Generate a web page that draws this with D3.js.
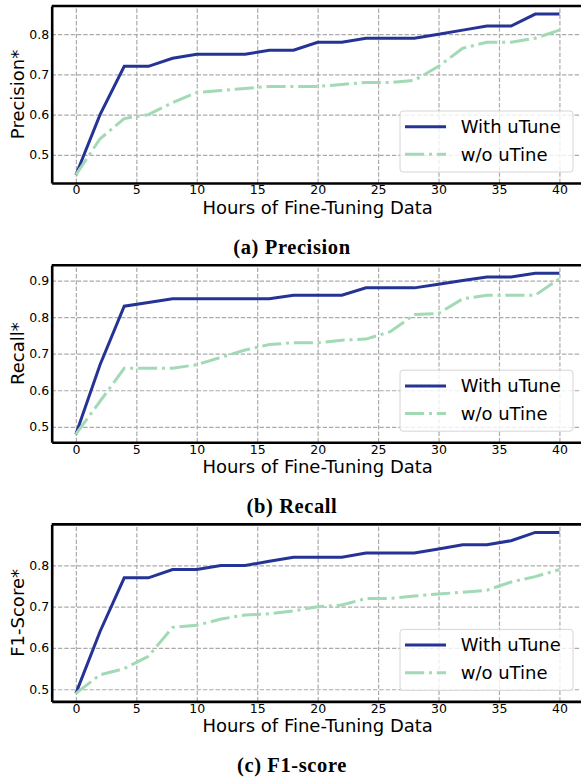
<!DOCTYPE html>
<html>
<head>
<meta charset="utf-8">
<script src="https://cdn.jsdelivr.net/npm/d3@7"></script>
<style>
  body { margin: 0; background: #fff; }
  svg { display: block; }
</style>
</head>
<body>
<div id="chart-area"></div>
<script>
// hours on x axis
var hours = [0, 2, 4, 6, 8, 10, 12, 14, 16, 18, 20, 22, 24, 26, 28, 30, 32, 34, 36, 38, 40];
var xTicks = [0, 5, 10, 15, 20, 25, 30, 35, 40];

var precisionWith    = [0.45, 0.60, 0.72, 0.72, 0.74, 0.75, 0.75, 0.75, 0.76, 0.76, 0.78, 0.78, 0.79, 0.79, 0.79, 0.80, 0.81, 0.82, 0.82, 0.85, 0.85];
var precisionWithout = [0.45, 0.54, 0.59, 0.60, 0.63, 0.655, 0.66, 0.665, 0.67, 0.67, 0.67, 0.675, 0.68, 0.68, 0.685, 0.72, 0.765, 0.78, 0.78, 0.79, 0.81];
var precisionTicks   = [0.5, 0.6, 0.7, 0.8];

var recallWith    = [0.48, 0.67, 0.83, 0.84, 0.85, 0.85, 0.85, 0.85, 0.85, 0.86, 0.86, 0.86, 0.88, 0.88, 0.88, 0.89, 0.90, 0.91, 0.91, 0.92, 0.92];
var recallWithout = [0.48, 0.57, 0.66, 0.66, 0.66, 0.67, 0.69, 0.71, 0.725, 0.73, 0.73, 0.737, 0.74, 0.76, 0.807, 0.81, 0.85, 0.86, 0.86, 0.86, 0.905];
var recallTicks   = [0.5, 0.6, 0.7, 0.8, 0.9];

var f1With    = [0.49, 0.64, 0.77, 0.77, 0.79, 0.79, 0.80, 0.80, 0.81, 0.82, 0.82, 0.82, 0.83, 0.83, 0.83, 0.84, 0.85, 0.85, 0.86, 0.88, 0.88];
var f1Without = [0.49, 0.535, 0.55, 0.58, 0.65, 0.655, 0.67, 0.68, 0.683, 0.69, 0.70, 0.704, 0.72, 0.72, 0.726, 0.731, 0.735, 0.74, 0.76, 0.773, 0.79];
var f1Ticks   = [0.5, 0.6, 0.7, 0.8];

var seriesNames = ["With uTune", "w/o uTine"];
var colors = ["#253494", "#a1dab4"];

var panels = [
    { ylabel: "Precision*", caption: "(a) Precision", a: precisionWith, b: precisionWithout, ticks: precisionTicks },
    { ylabel: "Recall*",    caption: "(b) Recall",    a: recallWith,    b: recallWithout,    ticks: recallTicks },
    { ylabel: "F1-Score*",  caption: "(c) F1-score",  a: f1With,        b: f1Without,        ticks: f1Ticks }
];

var W = 581, H = 780;
var margin = { left: 51.7, top: 6 };
var plotW = 531.9, plotH = 177;
var step = 259.2;

var svg = d3.select("#chart-area")
    .append("svg")
    .attr("width", W)
    .attr("height", H)
    .style("font-family", "'DejaVu Sans', sans-serif");

// matplotlib style 5% margins
function padded(ext) {
    var r = ext[1] - ext[0];
    return [ext[0] - r * 0.05, ext[1] + r * 0.05];
}

var x = d3.scaleLinear()
    .domain(padded(d3.extent(hours)))
    .range([0, plotW]);

panels.forEach(function(p, i) {
    var g = svg.append("g")
        .attr("transform", "translate(" + margin.left + "," + (margin.top + i * step) + ")");

    var y = d3.scaleLinear()
        .domain(padded(d3.extent(p.a.concat(p.b))))
        .range([plotH, 0]);

    // grid
    g.append("g")
        .attr("class", "grid")
        .attr("transform", "translate(0," + plotH + ")")
        .call(d3.axisBottom(x).tickValues(xTicks).tickSize(-plotH).tickFormat(""));
    g.append("g")
        .attr("class", "grid")
        .call(d3.axisLeft(y).tickValues(p.ticks).tickSize(-plotW).tickFormat(""));
    g.selectAll(".grid .domain").remove();
    g.selectAll(".grid line")
        .attr("stroke", "#ababab")
        .attr("stroke-width", 1.2)
        .attr("stroke-dasharray", "4.4,1.9");

    var line = d3.line()
        .x(function(d, j) { return x(hours[j]); })
        .y(function(d) { return y(d); });

    g.append("path")
        .datum(p.a)
        .attr("d", line)
        .attr("fill", "none")
        .attr("stroke", colors[0])
        .attr("stroke-width", 3);

    g.append("path")
        .datum(p.b)
        .attr("d", line)
        .attr("fill", "none")
        .attr("stroke", colors[1])
        .attr("stroke-width", 3)
        .attr("stroke-dasharray", "19.2,4.8,3,4.8");

    // axes
    var xAxis = g.append("g")
        .attr("transform", "translate(0," + plotH + ")")
        .call(d3.axisBottom(x).tickValues(xTicks).tickSize(0).tickPadding(2.5));
    var yAxis = g.append("g")
        .call(d3.axisLeft(y).tickValues(p.ticks).tickSize(0).tickPadding(2.5).tickFormat(d3.format(".1f")));

    [xAxis, yAxis].forEach(function(ax) {
        ax.select(".domain").attr("stroke", "#000").attr("stroke-width", 2.6);
        ax.selectAll("text")
            .attr("fill", "#000")
            .style("font-size", "12.5px")
            .style("font-family", "'DejaVu Sans', sans-serif");
    });

    // top spine
    g.append("line")
        .attr("x1", 0).attr("x2", plotW)
        .attr("y1", 0).attr("y2", 0)
        .attr("stroke", "#000")
        .attr("stroke-width", 2.6);

    // labels
    g.append("text")
        .attr("transform", "translate(" + (18 - margin.left) + "," + (plotH / 2) + ") rotate(-90)")
        .attr("text-anchor", "middle")
        .attr("dy", "0.35em")
        .style("font-size", "18px")
        .text(p.ylabel);

    g.append("text")
        .attr("x", plotW / 2)
        .attr("y", plotH + 30.5)
        .attr("text-anchor", "middle")
        .style("font-size", "18px")
        .text("Hours of Fine-Tuning Data");

    g.append("text")
        .attr("x", 292 - margin.left)
        .attr("y", 247.5)
        .attr("text-anchor", "middle")
        .style("font-family", "'Liberation Serif', serif")
        .style("font-weight", "bold")
        .style("font-size", "20.5px")
        .style("letter-spacing", "0.6px")
        .text(p.caption);

    // legend
    var lg = g.append("g")
        .attr("transform", "translate(" + (400 - margin.left) + "," + (plotH - 11 - 61) + ")");
    lg.append("rect")
        .attr("width", 173)
        .attr("height", 61)
        .attr("rx", 3)
        .attr("fill", "#fff")
        .attr("fill-opacity", 0.8)
        .attr("stroke", "#d6d6d6")
        .attr("stroke-width", 1);

    seriesNames.forEach(function(name, k) {
        var yy = 15.7 + k * 27.6;
        lg.append("line")
            .attr("x1", 5).attr("x2", 46)
            .attr("y1", yy).attr("y2", yy)
            .attr("stroke", colors[k])
            .attr("stroke-width", 3)
            .attr("stroke-dasharray", k == 1 ? "19.2,4.8,3,4.8" : null);
        lg.append("text")
            .attr("x", 60.7)
            .attr("y", yy)
            .attr("dy", "0.35em")
            .style("font-size", "18px")
            .text(name);
    });
});
</script>
</body>
</html>
